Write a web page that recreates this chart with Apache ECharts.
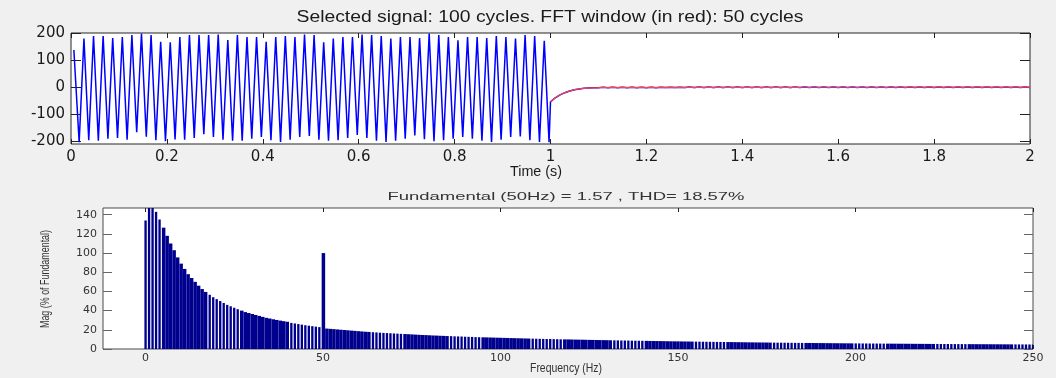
<!DOCTYPE html>
<html>
<head>
<meta charset="utf-8">
<script src="https://cdn.jsdelivr.net/npm/echarts@6/dist/echarts.min.js"></script>
<style>
  html, body { margin: 0; padding: 0; background: #f0f0f0; }
  #chart { width: 1056px; height: 378px; }
</style>
</head>
<body>
<div id="chart"></div>
<script>
// ---- Signal (top plot): 50 Hz waveform, then decay after breaker opening at t = 1 s ----
const cyclePeriod = 0.02;          // s, 50 Hz
const firstTroughTime = 0.017;     // s
const firstPeakTime = 0.027;       // s
const signalStart = [0.006, 138];
const signalPeaks = [
  180, 190, 190, 182, 186, 193, 199, 193, 168, 166,
  186, 193, 193, 193, 195, 175, 193, 186, 186, 168,
  186, 190, 186, 195, 193, 166, 180, 186, 186, 195,
  193, 190, 180, 186, 186, 182, 199, 193, 186, 174,
  186, 186, 182, 190, 186, 180, 193, 190, 172
];
const signalTroughs = [
  -205, -198, -200, -192, -190, -196, -168, -185, -198, -202,
  -195, -196, -190, -176, -186, -196, -200, -200, -192, -186,
  -198, -204, -196, -186, -182, -196, -200, -198, -190, -178,
  -190, -200, -204, -200, -192, -180, -194, -202, -198, -192,
  -186, -192, -200, -204, -196, -186, -184, -198, -204, -205
];
// residual after t = 1 s, one value every 10 ms from 1.00 s to 2.00 s
const tailStep = 0.01;
const tailStart = 1.0;
const tailValues = [
  -55, -40, -29, -21, -15, -10, -7, -5, -4, -3,
  -2.5, -0.8, -2.6, -0.7, -2.5, -0.6, -2.4, -0.6, -2.4, -0.5,
  -2.3, -0.5, -2.3, -0.4, -2.2, -0.4, -2.2, -0.4, -2.2, -0.3,
  -2.1, -0.3, -2.1, -0.3, -2.1, -0.3, -2.0, -0.2, -2.0, -0.2,
  -2.0, -0.2, -2.0, -0.2, -1.9, -0.1, -1.9, -0.1, -1.9, -0.1,
  -1.9, -0.1, -1.8, 0.0, -1.8, 0.0, -1.8, 0.0, -1.8, 0.0,
  -1.8, 0.0, -1.7, 0.1, -1.7, 0.1, -1.7, 0.1, -1.7, 0.1,
  -1.7, 0.1, -1.6, 0.1, -1.6, 0.2, -1.6, 0.2, -1.6, 0.2,
  -1.6, 0.2, -1.5, 0.2, -1.5, 0.2, -1.5, 0.2, -1.5, 0.2,
  -1.5, 0.2, -1.5, 0.2, -1.5, 0.2, -1.5, 0.2, -1.5, 0.2,
  -1.5
];

// ---- FFT magnitude (bottom plot), % of fundamental, one bin per Hz from 0 Hz ----
const mag0to50 = [
  134, 155, 150, 143, 135, 126.5, 118, 110, 103, 95.5,
  89, 83.5, 78, 74, 70, 66, 62.5, 59.5, 56.5, 54,
  52, 50, 48, 46, 44.5, 43, 41.5, 40, 38.5, 37.5,
  36.5, 35.5, 34.5, 33.5, 32.5, 31.8, 31, 30.3, 29.6, 29,
  28.4, 27.2, 26.6, 26, 25.4, 24.8, 24.3, 23.8, 23.3, 22.8,
  100
];
const mag51to100 = [
  21.3, 21, 20.7, 20.4, 20.1, 19.8, 19.5, 19.2, 18.9, 18.6,
  18.3, 18.0, 17.8, 17.5, 17.3, 17.0, 16.8, 16.6, 16.4, 16.2,
  16.0, 15.8, 15.6, 15.4, 15.2, 15.0, 14.8, 14.6, 14.5, 14.3,
  14.1, 14.0, 13.8, 13.7, 13.5, 13.4, 13.2, 13.1, 13.0, 12.8,
  12.7, 12.6, 12.4, 12.3, 12.2, 12.1, 12.0, 11.9, 11.8, 11.7
];
const mag101to150 = [
  11.6, 11.5, 11.4, 11.3, 11.2, 11.1, 11.0, 10.9, 10.8, 10.7,
  10.6, 10.5, 10.45, 10.4, 10.3, 10.2, 10.1, 10.05, 10.0, 9.9,
  9.8, 9.75, 9.7, 9.6, 9.5, 9.45, 9.4, 9.3, 9.25, 9.2,
  9.1, 9.05, 9.0, 8.9, 8.85, 8.8, 8.7, 8.65, 8.6, 8.55,
  8.5, 8.4, 8.35, 8.3, 8.25, 8.2, 8.1, 8.05, 8.0, 7.95
];
const mag151to200 = [
  7.9, 7.85, 7.8, 7.75, 7.7, 7.65, 7.6, 7.55, 7.5, 7.45,
  7.4, 7.35, 7.3, 7.25, 7.2, 7.15, 7.1, 7.05, 7.0, 6.95,
  6.9, 6.85, 6.8, 6.78, 6.75, 6.7, 6.65, 6.6, 6.57, 6.54,
  6.5, 6.45, 6.4, 6.38, 6.35, 6.3, 6.27, 6.24, 6.2, 6.17,
  6.14, 6.1, 6.07, 6.04, 6.0, 5.97, 5.94, 5.91, 5.88, 5.85
];
const mag201to250 = [
  5.82, 5.79, 5.76, 5.73, 5.7, 5.68, 5.65, 5.62, 5.6, 5.57,
  5.55, 5.52, 5.5, 5.47, 5.45, 5.42, 5.4, 5.37, 5.35, 5.33,
  5.3, 5.28, 5.26, 5.24, 5.22, 5.2, 5.17, 5.15, 5.13, 5.11,
  5.09, 5.07, 5.05, 5.03, 5.01, 4.99, 4.97, 4.95, 4.93, 4.91,
  4.89, 4.87, 4.85, 4.83, 4.81, 4.79, 4.77, 4.75, 4.73, 4.71
];

// ---- Tick labels and texts ----
const timeTicks = [0, 0.2, 0.4, 0.6, 0.8, 1, 1.2, 1.4, 1.6, 1.8, 2];
const signalTicks = [-200, -100, 0, 100, 200];
const freqTicks = [0, 50, 100, 150, 200, 250];
const magTicks = [0, 20, 40, 60, 80, 100, 120, 140];
const topTitle = 'Selected signal: 100 cycles. FFT window (in red): 50 cycles';
const topXName = 'Time (s)';
const bottomTitle = 'Fundamental (50Hz) = 1.57 , THD= 18.57%';
const bottomXName = 'Frequency (Hz)';
const bottomYName = 'Mag (% of Fundamental)';

// ---- Build series data ----
const wavePoints = [signalStart];
for (let k = 0; k < signalTroughs.length; k++) {
  wavePoints.push([firstTroughTime + k * cyclePeriod, signalTroughs[k]]);
  if (k < signalPeaks.length) {
    wavePoints.push([firstPeakTime + k * cyclePeriod, signalPeaks[k]]);
  }
}
const tailPoints = tailValues.map((v, i) => [tailStart + i * tailStep, v]);
const signalPoints = wavePoints.concat(tailPoints);

const magnitude = [].concat(mag0to50, mag51to100, mag101to150, mag151to200, mag201to250);
const spectrum = magnitude.map((v, f) => [f, v]);

// ---- Text helper: fits a string to a target width with a horizontal scale ----
const measureCtx = document.createElement('canvas').getContext('2d');
function fittedText(str, font, cx, cy, width, color, rotate) {
  measureCtx.font = font;
  const natural = measureCtx.measureText(str).width;
  return {
    type: 'text', x: cx, y: cy, silent: true,
    rotation: rotate || 0,
    scaleX: width / natural,
    style: { text: str, font: font, fill: color, align: 'center', verticalAlign: 'middle' }
  };
}

// Bars are snapped to a coarse pixel lattice (pitch ~3.044 lattice cells per bin),
// which leaves the thin light seams that come and go along the spectrum.
const latticePitch = 3.044;
const latticeBarWidth = 2.6;
const latticePhase = 0.02;
function renderBin(params, api) {
  const f = api.value(0);
  const v = api.value(1);
  const binPx = api.size([1, 0])[0];
  const cell = binPx / latticePitch;
  const origin = api.coord([0, 0]);
  const top = api.coord([f, v])[1];
  const u = f * latticePitch + latticePhase;
  const l = Math.round(u - latticeBarWidth / 2);
  const r = Math.round(u + latticeBarWidth / 2);
  const x0 = origin[0] + (l - latticePhase) * cell;
  const x1 = origin[0] + (r - latticePhase) * cell;
  return {
    type: 'rect',
    shape: { x: x0, y: top, width: x1 - x0, height: origin[1] - top },
    style: { fill: '#00008f' }
  };
}

const tickDark = '#222222';
const labelFont = 'DejaVu Sans';

const chart = echarts.init(document.getElementById('chart'), null, { renderer: 'canvas' });

function mirrorX(gridIndex, min, max, extra) {
  return Object.assign({
    type: 'value', gridIndex: gridIndex, min: min, max: max, position: 'top',
    axisLine: { show: false, onZero: false }, splitLine: { show: false },
    axisLabel: { show: false }
  }, extra);
}

const option = {
  animation: false,
  backgroundColor: '#f0f0f0',
  grid: [
    { left: 71, top: 33, width: 959, height: 111, show: true, backgroundColor: '#ffffff', borderColor: '#262626', borderWidth: 1 },
    { left: 103, top: 208, width: 930, height: 141, show: true, backgroundColor: '#ffffff', borderColor: '#4a4a4a', borderWidth: 1 }
  ],
  xAxis: [
    {
      type: 'value', gridIndex: 0, min: 0, max: 2, interval: 0.2, position: 'bottom',
      axisLine: { show: false, onZero: false }, splitLine: { show: false },
      axisTick: { inside: true, length: 5, lineStyle: { color: tickDark } },
      axisLabel: { fontFamily: labelFont, fontSize: 15, color: '#1a1a1a', margin: 6,
                   customValues: timeTicks }
    },
    mirrorX(0, 0, 2, {
      interval: 0.2,
      axisTick: { inside: true, length: 5, lineStyle: { color: tickDark } }
    }),
    {
      type: 'value', gridIndex: 1, min: -12, max: 250, position: 'bottom',
      axisLine: { show: false, onZero: false }, splitLine: { show: false },
      axisTick: { inside: true, length: 4, customValues: freqTicks, lineStyle: { color: tickDark } },
      axisLabel: { fontFamily: labelFont, fontSize: 11, color: '#333333', margin: 4,
                   customValues: freqTicks }
    },
    mirrorX(1, -12, 250, {
      axisTick: { inside: true, length: 4, customValues: freqTicks, lineStyle: { color: tickDark } }
    })
  ],
  yAxis: [
    {
      type: 'value', gridIndex: 0, min: -212, max: 201, position: 'left',
      axisLine: { show: false, onZero: false }, splitLine: { show: false },
      axisTick: { inside: true, length: 10, customValues: signalTicks, lineStyle: { color: tickDark } },
      axisLabel: { fontFamily: labelFont, fontSize: 15, color: '#1a1a1a', margin: 6,
                   customValues: signalTicks }
    },
    {
      type: 'value', gridIndex: 0, min: -212, max: 201, position: 'right',
      axisLine: { show: false, onZero: false }, splitLine: { show: false },
      axisTick: { inside: true, length: 10, customValues: signalTicks, lineStyle: { color: tickDark } },
      axisLabel: { show: false }
    },
    {
      type: 'value', gridIndex: 1, min: 0, max: 147, position: 'left',
      axisLine: { show: false, onZero: false }, splitLine: { show: false },
      axisTick: { inside: true, length: 9, customValues: magTicks, lineStyle: { color: '#666666' } },
      axisLabel: { fontFamily: labelFont, fontSize: 11, color: '#333333', margin: 6,
                   customValues: magTicks }
    },
    {
      type: 'value', gridIndex: 1, min: 0, max: 147, position: 'right',
      axisLine: { show: false, onZero: false }, splitLine: { show: false },
      axisTick: { inside: true, length: 9, customValues: magTicks, lineStyle: { color: '#666666' } },
      axisLabel: { show: false }
    }
  ],
  series: [
    {
      name: 'signal', type: 'line', xAxisIndex: 0, yAxisIndex: 0,
      data: signalPoints, showSymbol: false, clip: true,
      lineStyle: { color: '#0000ff', width: 1.5 }
    },
    {
      name: 'FFT window', type: 'line', xAxisIndex: 0, yAxisIndex: 0,
      data: tailPoints, showSymbol: false, clip: true,
      lineStyle: { color: '#ff4444', width: 1.2 }
    },
    {
      name: 'spectrum', type: 'custom', xAxisIndex: 2, yAxisIndex: 2,
      data: spectrum, clip: true,
      renderItem: renderBin
    }
  ],
  graphic: [
    fittedText(topTitle, '16px "Liberation Sans"', 550, 18, 507, '#1a1a1a'),
    fittedText(topXName, '15px "Liberation Sans"', 536, 172, 52, '#1a1a1a'),
    fittedText(bottomTitle, '11px "Liberation Sans"', 566, 197, 357, '#333333'),
    fittedText(bottomXName, '12px "Liberation Sans"', 566, 369, 72, '#333333'),
    fittedText(bottomYName, '13px "Liberation Sans"', 45, 279, 98, '#333333', Math.PI / 2)
  ]
};

chart.setOption(option);
</script>
</body>
</html>
